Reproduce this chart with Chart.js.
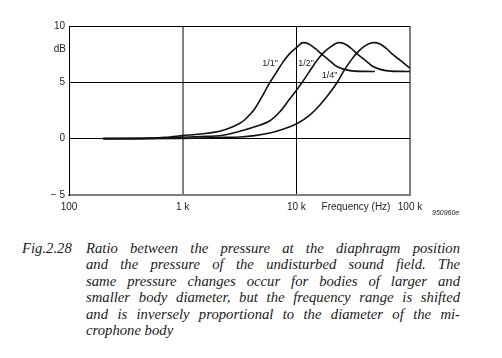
<!DOCTYPE html>
<html>
<head>
<meta charset="utf-8">
<script src="https://cdn.jsdelivr.net/npm/chart.js@4.4.0/dist/chart.umd.min.js"></script>
<style>
  html, body { margin: 0; padding: 0; background: #fff; }
  #wrap { position: relative; width: 502px; height: 358px; overflow: hidden; }
  #chart { position: absolute; left: 0; top: 0; }
  .fig { position: absolute; left: 22px; top: 240px; font: italic 14.7px "Liberation Serif", serif; color: #1a1a1a; }
  .cap { position: absolute; left: 86px; top: 240px; width: 374px; font: italic 14.7px "Liberation Serif", serif; color: #1a1a1a; line-height: 16.4px; }
  .cap div { text-align: justify; text-align-last: justify; white-space: nowrap; }
  .cap div.last { text-align-last: left; }
</style>
</head>
<body>
<div id="wrap">
  <canvas id="chart" width="502" height="220"></canvas>
  <div class="fig">Fig.2.28</div>
  <div class="cap">
    <div>Ratio between the pressure at the diaphragm position</div>
    <div>and the pressure of the undisturbed sound field. The</div>
    <div>same pressure changes occur for bodies of larger and</div>
    <div>smaller body diameter, but the frequency range is shifted</div>
    <div>and is inversely proportional to the diameter of the mi-</div>
    <div class="last">crophone body</div>
  </div>
</div>
<script>
// 1/1" microphone
const freq11 = [200, 500, 700, 1000, 1500, 1914, 2344, 2760, 3180, 3520, 3890, 4310, 4960, 5720, 6600, 7600, 8770, 10090, 11400, 12880, 14850, 16190, 19720, 22740, 29600, 40160, 49200];
const db11   = [0, 0.05, 0.12, 0.27, 0.44, 0.58, 0.8, 1.06, 1.37, 1.68, 2.12, 2.65, 3.68, 4.82, 5.8, 6.77, 7.57, 8.1, 8.52, 8.41, 7.96, 7.61, 6.9, 6.4, 6.04, 5.97, 5.96];
// 1/2" microphone
const freq12 = [200, 500, 1000, 1413, 2250, 3180, 4310, 5850, 7160, 8770, 10090, 11180, 12880, 14850, 17110, 19720, 22740, 23660, 26740, 30820, 33430, 40950, 47170, 61440, 83300, 100000];
const db12   = [0, 0.02, 0.13, 0.18, 0.31, 0.66, 1.06, 1.59, 2.39, 3.54, 4.34, 4.96, 5.88, 6.81, 7.57, 8.1, 8.5, 8.52, 8.41, 7.96, 7.61, 6.9, 6.4, 6.04, 5.97, 5.96];
// 1/4" microphone
const freq14 = [200, 1000, 2344, 3180, 4310, 5850, 7600, 10090, 13200, 16190, 19720, 22740, 26200, 30210, 34830, 40160, 46300, 48240, 54440, 62700, 68000, 83300, 96000, 100000];
const db14   = [0, 0.03, 0.12, 0.15, 0.27, 0.5, 0.84, 1.33, 2.12, 3.01, 4.07, 4.96, 6.02, 6.95, 7.7, 8.23, 8.51, 8.52, 8.41, 7.96, 7.61, 6.9, 6.4, 6.28];

const xTicks = [100, 1000, 10000, 100000];
const xTickLabels = ["100", "1 k", "10 k", "100 k"];
const yTicks = [-5, 0, 5, 10];

const curveLabels = [
    { text: '1/1"', f: 6900, db: 6.7 },
    { text: '1/2"', f: 14300, db: 6.7 },
    { text: '1/4"', f: 23000, db: 5.6 }
];

const toPts = (fs, ds) => fs.map((f, i) => ({ x: f, y: ds[i] }));
const GRAY = "#808080";

const lineSet = (pts) => ({
    data: pts, borderColor: "#111", borderWidth: 1.6, pointRadius: 0,
    cubicInterpolationMode: "monotone", fill: false
});

const extras = {
    id: "extras",
    afterDraw(chart) {
        const { ctx, scales: { x, y } } = chart;
        ctx.save();
        ctx.fillStyle = "#222";
        ctx.font = "9px 'Liberation Sans', Arial, sans-serif";
        ctx.textAlign = "right";
        ctx.textBaseline = "middle";
        curveLabels.forEach(l => ctx.fillText(l.text, x.getPixelForValue(l.f), y.getPixelForValue(l.db)));

        ctx.font = "10px 'Liberation Sans', Arial, sans-serif";
        ctx.fillText("dB", 66, y.getPixelForValue(7.9));
        ctx.textAlign = "center";
        ctx.fillText("Frequency (Hz)", 356, 207);
        ctx.font = "italic 7px 'Liberation Sans', Arial, sans-serif";
        ctx.textAlign = "left";
        ctx.fillText("950960e", 432, 213);
        ctx.restore();
    }
};

new Chart(document.getElementById("chart").getContext("2d"), {
    type: "line",
    data: {
        datasets: [lineSet(toPts(freq11, db11)), lineSet(toPts(freq12, db12)), lineSet(toPts(freq14, db14))]
    },
    options: {
        responsive: false, animation: false,
        layout: { padding: { left: 0, top: 26, right: 92, bottom: 0 } },
        plugins: { legend: { display: false }, tooltip: { enabled: false } },
        scales: {
            x: {
                type: "logarithmic", min: 100, max: 100000,
                afterBuildTicks: s => { s.ticks = xTicks.map(v => ({ value: v })); },
                afterFit: s => { s.height = 25; },
                border: { display: true, color: GRAY, width: 2 },
                grid: {
                    drawTicks: false,
                    color: c => (c.tick && (c.tick.value === 1000 || c.tick.value === 100000)) ? GRAY : "#000",
                    lineWidth: c => (c.tick && (c.tick.value === 1000 || c.tick.value === 100000)) ? 2 : 1
                },
                ticks: {
                    padding: 6, color: "#222", maxRotation: 0, autoSkip: false,
                    font: { family: "'Liberation Sans', Arial, sans-serif", size: 10 },
                    callback: (v, i) => xTickLabels[i]
                }
            },
            y: {
                min: -5, max: 10,
                afterBuildTicks: s => { s.ticks = yTicks.map(v => ({ value: v })); },
                afterFit: s => { s.width = 69; },
                border: { display: true, color: "#000", width: 1 },
                grid: {
                    drawTicks: false,
                    color: c => (c.tick && c.tick.value === -5) ? GRAY : "#000",
                    lineWidth: c => (c.tick && c.tick.value === -5) ? 2 : 1
                },
                ticks: {
                    padding: 4, color: "#222",
                    font: { family: "'Liberation Sans', Arial, sans-serif", size: 10 },
                    callback: v => v < 0 ? "\u2212 " + Math.abs(v) : String(v)
                }
            }
        }
    },
    plugins: [extras]
});
</script>
</body>
</html>
